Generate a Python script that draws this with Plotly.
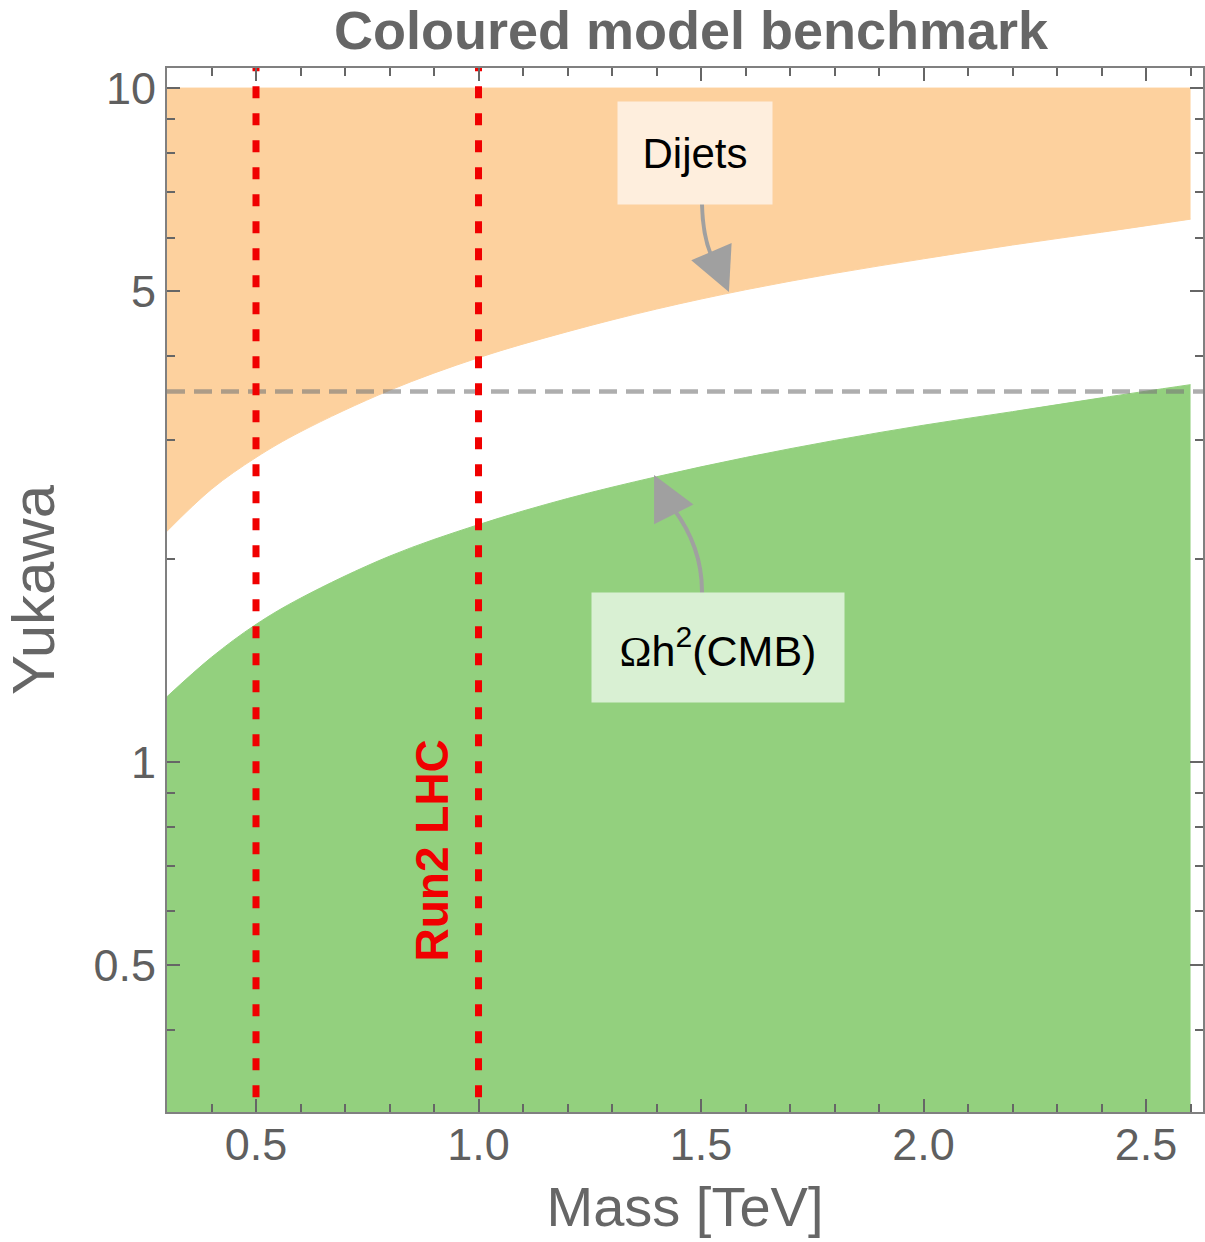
import numpy as np
import plotly.graph_objects as go

# ---- data ----
mass = [0.3, 0.4, 0.5, 0.6, 0.8, 1.0, 1.2, 1.4, 1.6, 1.8, 2.0, 2.2, 2.4, 2.6]
dijet_bound = [2.20, 2.54, 2.83, 3.09, 3.56, 3.98, 4.35, 4.70, 5.02, 5.31, 5.58, 5.85, 6.11, 6.39]
relic_bound = [1.25, 1.43, 1.60, 1.75, 2.02, 2.25, 2.46, 2.65, 2.83, 3.00, 3.16, 3.31, 3.47, 3.63]
y_top = 10.0
y_floor = 0.29
perturb_limit = float(np.sqrt(4 * np.pi))
lhc_limits = [0.5, 1.0]

x_major = [0.5, 1.0, 1.5, 2.0, 2.5]
x_major_text = ["0.5", "1.0", "1.5", "2.0", "2.5"]
y_major = [0.5, 1, 5, 10]
y_major_text = ["0.5", "1", "5", "10"]
y_minor = [0.3, 0.4, 0.6, 0.7, 0.8, 0.9, 2, 3, 4, 6, 7, 8, 9]

W, H = 1205, 1242
L, R, T, B = 167, 0, 68, 130
PW, PH = W - L - R, H - T - B

ORANGE = "#FDD19E"
GREEN = "#93D07E"
GREY_TXT = "#5f5f5f"
FONT = "Liberation Sans, Arial, sans-serif"


def px2paper(px, py):
    return (px - L) / PW, (H - B - py) / PH


fig = go.Figure()
n = len(mass)
fig.add_trace(go.Scatter(x=mass, y=[y_top] * n, mode="lines",
                         line=dict(width=1, color=ORANGE), hoverinfo="skip"))
fig.add_trace(go.Scatter(x=mass, y=dijet_bound, mode="lines", fill="tonexty",
                         fillcolor=ORANGE,
                         line=dict(width=1, color=ORANGE, shape="spline", smoothing=1.0),
                         name="Dijets"))
fig.add_trace(go.Scatter(x=mass, y=[y_floor] * n, mode="lines",
                         line=dict(width=1, color=GREEN), hoverinfo="skip"))
fig.add_trace(go.Scatter(x=mass, y=relic_bound, mode="lines", fill="tonexty",
                         fillcolor=GREEN,
                         line=dict(width=1, color=GREEN, shape="spline", smoothing=1.0),
                         name="Relic"))

# perturbativity line
fig.add_trace(go.Scatter(x=[0.3, 2.7], y=[perturb_limit, perturb_limit], mode="lines",
                         line=dict(color="rgba(120,120,120,0.6)", width=4.5, dash="18px,9px")))

# LHC lines
for xv in lhc_limits:
    fig.add_trace(go.Scatter(x=[xv, xv], y=[y_floor, 12], mode="lines",
                             line=dict(color="#F00000", width=7, dash="12px,15px")))


def qpath(p0, c, p1):
    a = px2paper(*p0); b = px2paper(*c); d = px2paper(*p1)
    return f"M {a[0]},{a[1]} Q {b[0]},{b[1]} {d[0]},{d[1]}"


ARROW = "#A0A0A0"
shapes = [
    dict(type="path", xref="paper", yref="paper", layer="above",
         path=qpath((703, 204), (704, 245), (718, 266)),
         line=dict(color=ARROW, width=4)),
    dict(type="path", xref="paper", yref="paper", layer="above",
         path=qpath((703, 594), (704, 545), (670, 503)),
         line=dict(color=ARROW, width=4)),
]

annotations = []
tx, ty = px2paper(730, 292)
annotations.append(dict(x=tx, y=ty, xref="paper", yref="paper", text="", showarrow=True,
                        arrowhead=2, arrowsize=2.2, arrowwidth=4, arrowcolor=ARROW,
                        ax=-13, ay=-30, standoff=0))
tx, ty = px2paper(655, 475)
annotations.append(dict(x=tx, y=ty, xref="paper", yref="paper", text="", showarrow=True,
                        arrowhead=2, arrowsize=2.2, arrowwidth=4, arrowcolor=ARROW,
                        ax=16, ay=32, standoff=0))
bx, by = px2paper(696, 153)
annotations.append(dict(x=bx, y=by, xref="paper", yref="paper", text="Dijets",
                        xanchor="center", yanchor="middle",
                        showarrow=False, bgcolor="#FEEEDD", width=152, height=100,
                        font=dict(family=FONT, size=42, color="black")))
bx, by = px2paper(719, 647)
annotations.append(dict(x=bx, y=by, xref="paper", yref="paper",
                        text='<span style="font-family:Liberation Serif">Ω</span>h<sup>2</sup>(CMB)',
                        xanchor="center", yanchor="middle",
                        showarrow=False, bgcolor="#D9F0D3", width=250, height=107,
                        font=dict(family=FONT, size=43, color="black")))
rx, ry = px2paper(433, 850)
annotations.append(dict(x=rx, y=ry, xref="paper", yref="paper", text="<b>Run2 LHC</b>",
                        textangle=-90, showarrow=False, xanchor="center", yanchor="middle",
                        font=dict(family=FONT, size=46, color="#F00000")))

fig.update_layout(
    width=W, height=H,
    margin=dict(l=L, r=R, t=T, b=B, pad=0),
    plot_bgcolor="white", paper_bgcolor="white",
    showlegend=False,
    shapes=shapes, annotations=annotations,
    title=dict(text="<b>Coloured model benchmark</b>", x=691 / W, xanchor="center",
               y=1 - 30 / H, yanchor="middle",
               font=dict(family=FONT, size=54, color="#666666")),
    xaxis=dict(range=[0.3, 2.628], showgrid=False, zeroline=False,
               showline=True, linecolor="#808080", linewidth=2, mirror="ticks",
               ticks="inside", ticklen=13, tickwidth=1.5, tickcolor="#666666",
               tickvals=x_major, ticktext=x_major_text, ticklabelstandoff=-8,
               tickfont=dict(family=FONT, size=45, color=GREY_TXT),
               minor=dict(dtick=0.1, tick0=0, ticks="inside", ticklen=8,
                          tickwidth=1.5, tickcolor="#666666"),
               title=dict(text="Mass [TeV]", standoff=18,
                          font=dict(family=FONT, size=56, color="#666666"))),
    yaxis=dict(type="log", range=[np.log10(0.3024), np.log10(10.71)],
               showgrid=False, zeroline=False,
               showline=True, linecolor="#808080", linewidth=2, mirror="ticks",
               ticks="inside", ticklen=13, tickwidth=1.5, tickcolor="#666666",
               tickvals=y_major, ticktext=y_major_text,
               tickfont=dict(family=FONT, size=45, color=GREY_TXT),
               minor=dict(tickvals=y_minor, ticks="inside", ticklen=8,
                          tickwidth=1.5, tickcolor="#666666"),
               title=dict(text="Yukawa", standoff=22,
                          font=dict(family=FONT, size=60, color="#666666"))),
)

fig.write_html("out.html", config={"displayModeBar": False},
               post_script="document.body.style.margin='0';document.body.style.padding='0';")
